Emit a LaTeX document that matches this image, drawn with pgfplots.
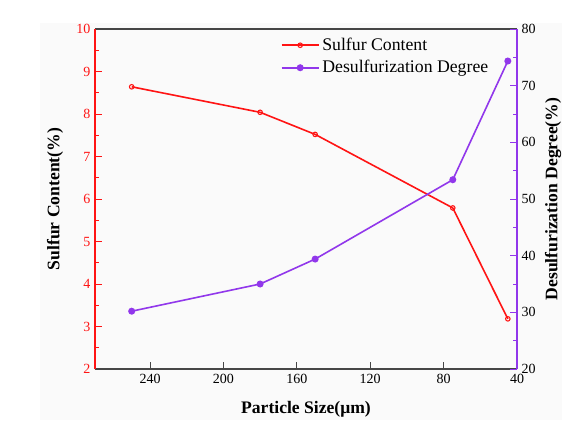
\documentclass[border=0pt]{standalone}
\usepackage{fontspec}
\setmainfont{Liberation Serif}
\usepackage{pgfplots}
\pgfplotsset{compat=1.18}
\definecolor{sred}{RGB}{255,20,20}
\definecolor{dviolet}{RGB}{145,55,235}
\definecolor{frame}{RGB}{70,70,70}
\definecolor{bg}{RGB}{250,250,250}
\begin{document}
\begin{tikzpicture}[x=0.75pt,y=0.75pt]
\useasboundingbox (-95,-66) rectangle (486,369);
\fill[bg] (-55,-51) rectangle (467,346);
\pgfplotsset{
  every axis/.append style={
    scale only axis, width=316.5pt, height=255pt,
    xmin=40, xmax=270, x dir=reverse,
    tick label style={font=\fontsize{10.5}{12}\selectfont},
    /pgf/number format/assume math mode=true,
    major tick length=5pt, minor tick length=3pt,
  },
  legend image code/.code={
    \draw[mark repeat=2,mark phase=2,#1]
      plot coordinates {(0pt,0pt) (14pt,0pt) (28pt,0pt)};
  },
}
\begin{axis}[
  axis y line*=left,
  ymin=2, ymax=10, ytick={2,3,...,10}, minor y tick num=1,
  xtick={240,200,160,120,80,40}, xtick pos=bottom,
  x axis line style={frame, line width=0.9pt},
  y axis line style={sred, line width=0.9pt},
  ytick style={sred, line width=0.7pt},
  xtick style={frame, line width=0.7pt},
  y tick label style={sred},
  xlabel={Particle Size(μm)},
  ylabel={Sulfur Content(\%)},
  xlabel style={font=\fontsize{13.2}{15}\selectfont\bfseries, yshift=-7pt},
  ylabel style={font=\fontsize{13.2}{15}\selectfont\bfseries, yshift=3pt},
]
\addplot[sred, line width=1.2pt, mark=o, mark size=1.7pt, mark options={line width=0.8pt}]
  coordinates {(250,8.64) (180,8.04) (150,7.52) (75,5.79) (45,3.18)};
\end{axis}
\begin{axis}[
  axis y line*=right, axis x line=none,
  ymin=20, ymax=80, ytick={20,30,...,80}, minor y tick num=1,
  y axis line style={dviolet, line width=0.9pt},
  ytick style={dviolet, line width=0.7pt},
  ylabel={Desulfurization Degree(\%)},
  ylabel style={font=\fontsize{13.2}{15}\selectfont\bfseries},
  legend style={at={(0.43,0.99)}, anchor=north west, draw=none, fill=none,
    font=\fontsize{13.3}{15}\selectfont, row sep=2pt,
    /tikz/every even column/.append style={column sep=2pt}},
  legend cell align=left,
]
\addlegendimage{sred, line width=1.2pt, mark=o, mark size=1.7pt, mark options={line width=0.8pt}}
\addlegendentry{Sulfur Content}
\addplot[dviolet, line width=1.2pt, mark=*, mark size=2pt]
  coordinates {(250,30.2) (180,35.0) (150,39.4) (75,53.4) (45,74.35)};
\addlegendentry{Desulfurization Degree}
\end{axis}
\end{tikzpicture}
\end{document}
